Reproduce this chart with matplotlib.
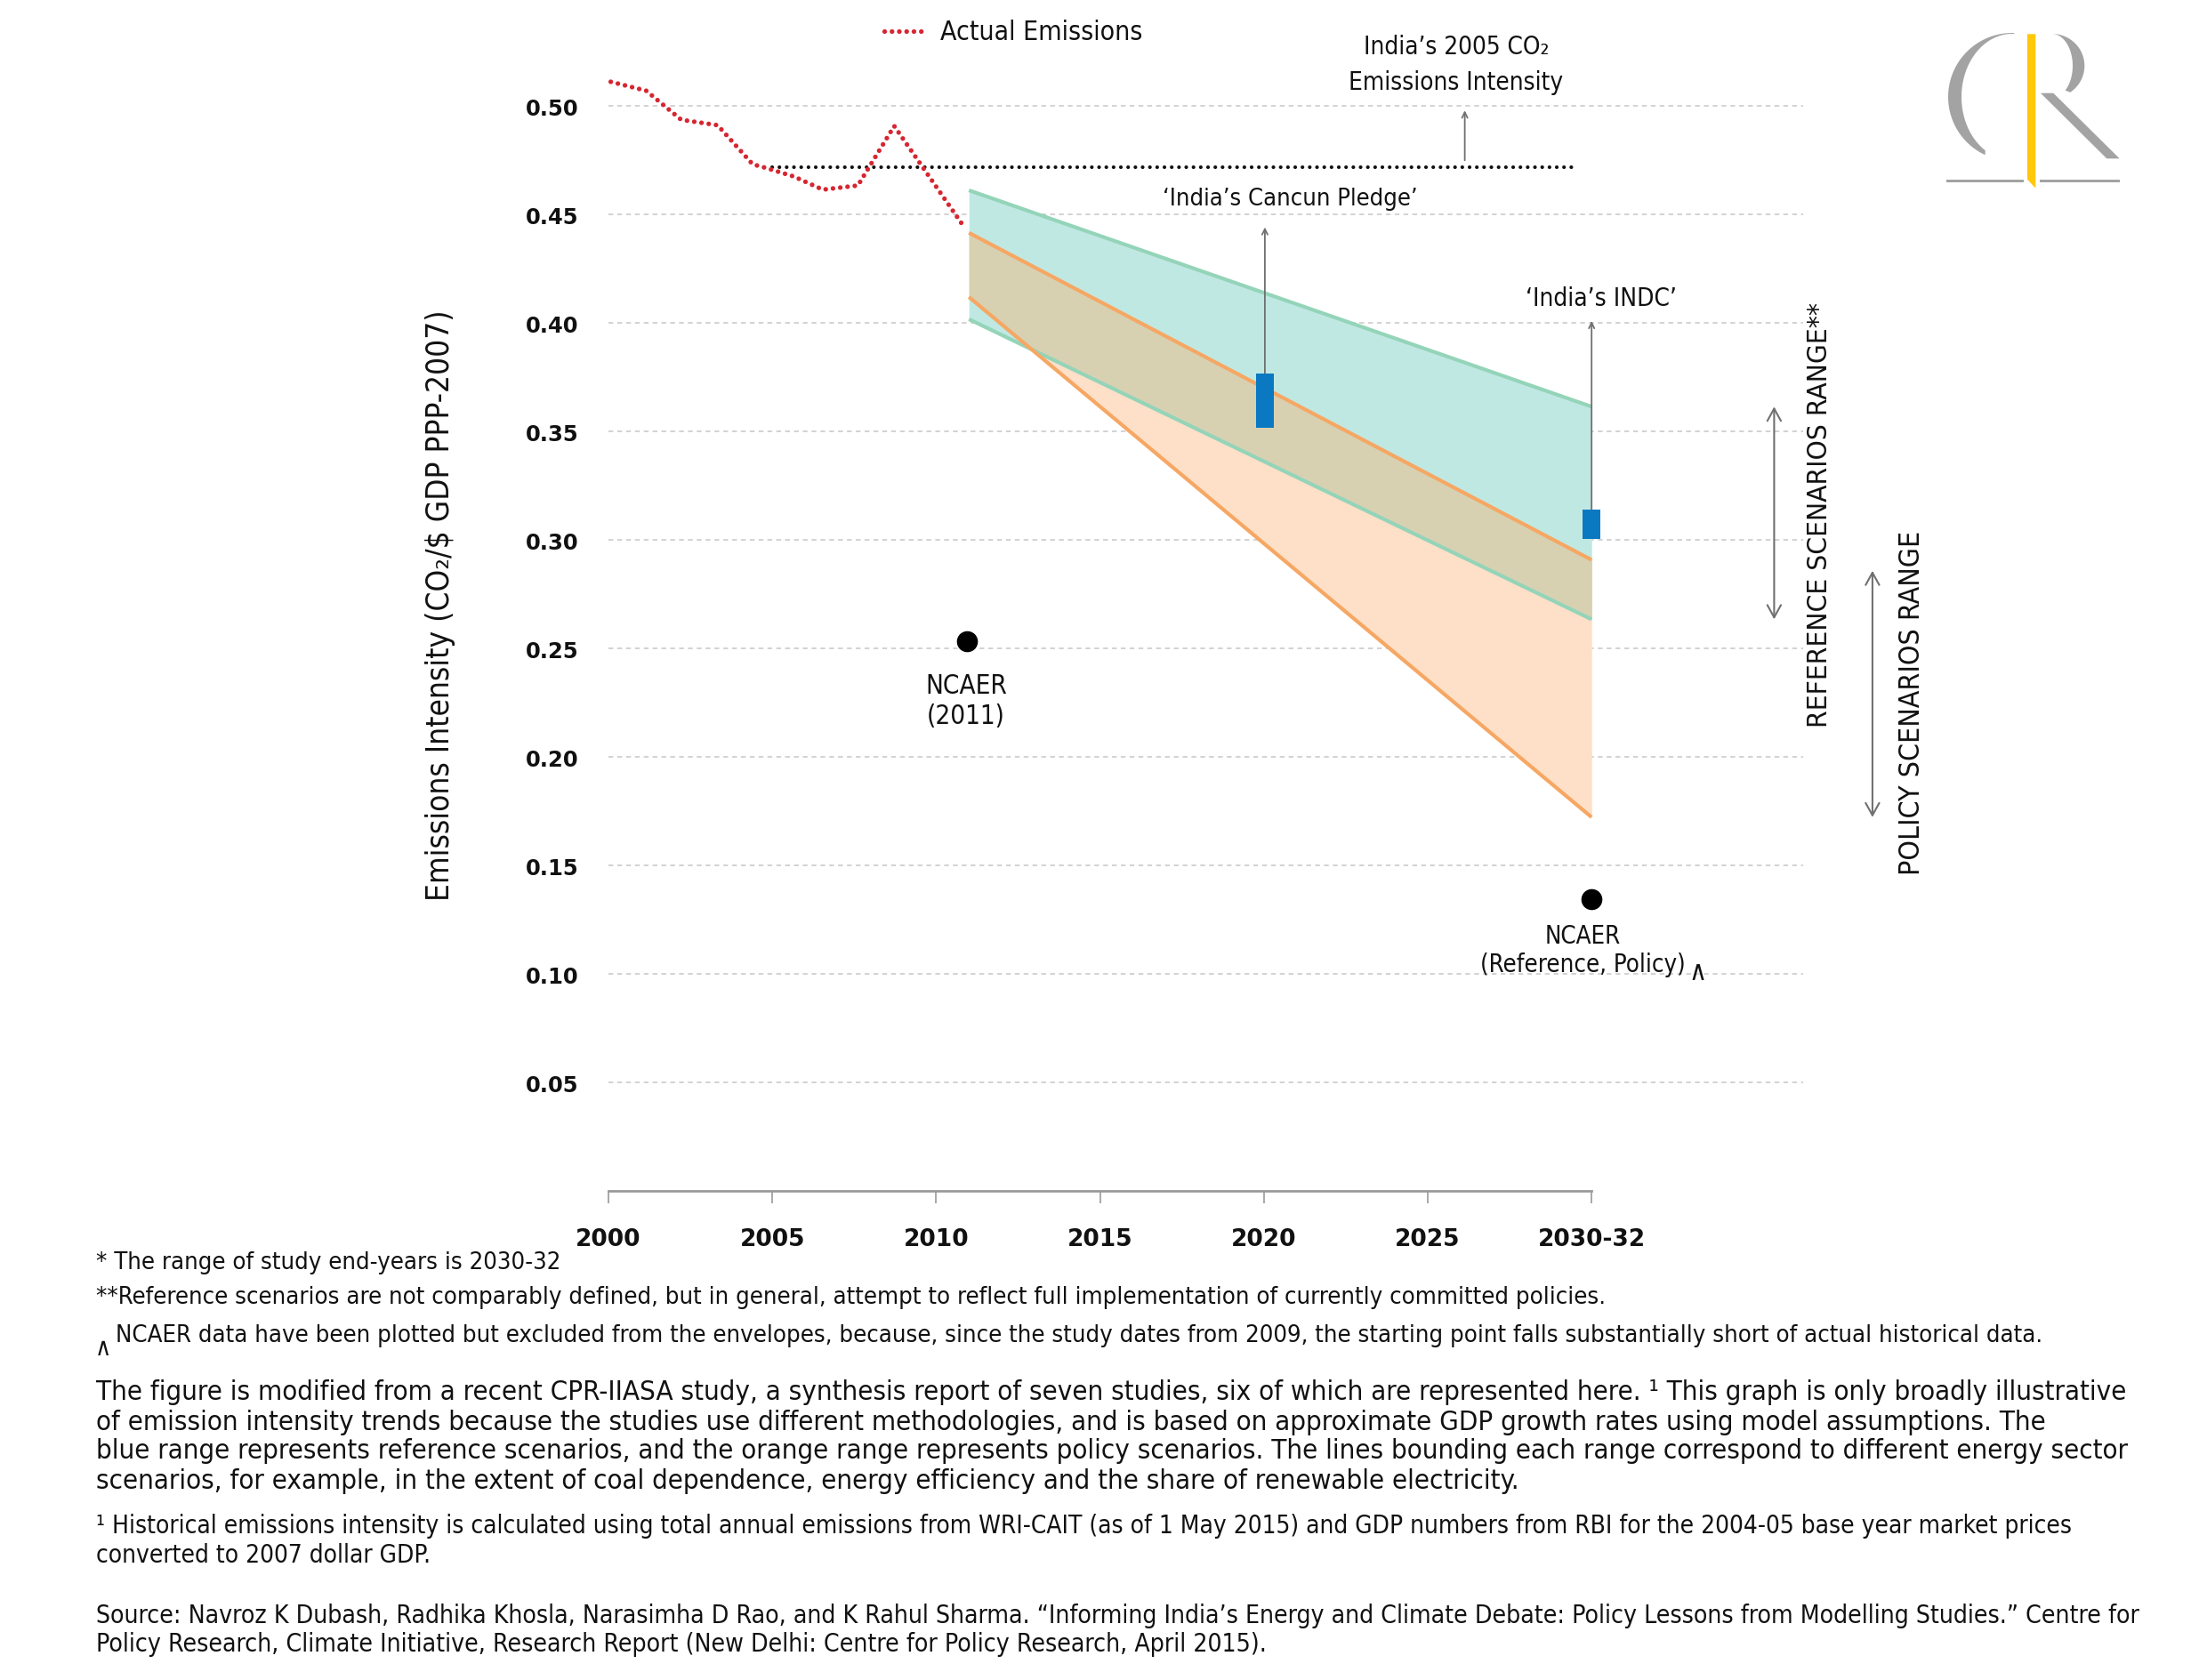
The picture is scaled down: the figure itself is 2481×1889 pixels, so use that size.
"""India emissions-intensity envelopes: reference vs policy scenarios, with pledges."""

import numpy as np
import matplotlib

matplotlib.use("Agg")
import matplotlib.pyplot as plt  # noqa: E402
from matplotlib import font_manager  # noqa: E402
from matplotlib.patches import Polygon  # noqa: E402

W, H = 2481, 1890

# ---- values ----
ACTUAL_YEARS = [2000.07, 2001.15, 2002.22, 2003.33, 2004.40, 2004.83, 2005.65,
                2006.54, 2007.61, 2008.72, 2010.87]
ACTUAL_VALUES = [0.5112, 0.5071, 0.4937, 0.4912, 0.4732, 0.4714, 0.4676,
                 0.4615, 0.4634, 0.4908, 0.4439]

BASE_2005 = 0.472          # India's 2005 CO2 emissions intensity
BASE_SPAN = [2005.0, 2029.4]

ENV_YEARS = [2011.0, 2030.0]
REF_UPPER = [0.4612, 0.3615]
REF_LOWER = [0.4018, 0.2635]
POL_UPPER = [0.4416, 0.2909]
POL_LOWER = [0.4120, 0.1723]

PLEDGE_YEARS = [2020.03, 2030.0]
PLEDGE_LOW = [0.3519, 0.3007]
PLEDGE_HIGH = [0.3767, 0.3140]
PLEDGE_ARROW_TOP = [0.4442, 0.4010]

NCAER_YEARS = [2010.93, 2030.0]
NCAER_VALUES = [0.2536, 0.1347]

X_TICKS = [2000, 2005, 2010, 2015, 2020, 2025, 2030]
X_LABELS = ["2000", "2005", "2010", "2015", "2020", "2025", "2030-32"]
Y_TICKS = [0.05, 0.10, 0.15, 0.20, 0.25, 0.30, 0.35, 0.40, 0.45, 0.50]

# ---- colours ----
RED = "#d62631"
GREEN = "#94d4b9"
ORANGE = "#f6a763"
TEAL_FILL = "#c0e8e3"
PEACH_FILL = "#fde0c7"
OVERLAP_FILL = "#d7d1b2"
BLUE = "#0a79c1"
ARROW = "#707070"
INK = "#111111"
LOGO_GREY = "#a3a3a3"
LOGO_YELLOW = "#ffc80a"


def pick_text_font():
    fonts = font_manager.fontManager.ttflist
    if any(f.name == "Liberation Sans Narrow" for f in fonts):
        return {"family": ["Liberation Sans Narrow", "DejaVu Sans"]}
    for fam in ("DejaVu Sans", "Roboto", "Open Sans", "Noto Sans"):
        if any(f.name == fam and "Condensed" in f.fname for f in fonts):
            return {"family": [fam, "DejaVu Sans"], "fontstretch": "condensed"}
    for f in fonts:
        if "Condensed" in f.name or "Narrow" in f.name:
            return {"family": [f.name, "DejaVu Sans"]}
    return {"family": ["Lato", "DejaVu Sans"]}


TEXT_FONT = pick_text_font()

fig = plt.figure(figsize=(W / 100, H / 100), dpi=100)
fig.patch.set_facecolor("white")

# main axes: 2000 at x=684px, 1 yr = 36.84px; y=0 at 1340px, 0.05 = 122px
X_MAX = 2036.45
ax = fig.add_axes([684 / W, (H - 1340.3) / H, (X_MAX - 2000) * 36.84 / W, 0.53 * 2440 / H])
ax.set_xlim(2000, X_MAX)
ax.set_ylim(0, 0.53)
for side in ("top", "right", "left"):
    ax.spines[side].set_visible(False)
ax.spines["bottom"].set_bounds(2000, 2030)
ax.spines["bottom"].set_color("#9a9a9a")
ax.spines["bottom"].set_linewidth(2)

ax.set_xticks(X_TICKS)
ax.set_xticklabels(X_LABELS)
ax.set_yticks(Y_TICKS)
ax.set_yticklabels([f"{v:.2f}" for v in Y_TICKS])
ax.tick_params(axis="x", length=10, width=1.2, color="#9a9a9a", pad=19,
               labelsize=19, labelcolor=INK)
ax.tick_params(axis="y", length=0, pad=24, labelsize=17.5, labelcolor=INK)
for lab in ax.get_xticklabels() + ax.get_yticklabels():
    lab.set_fontweight("bold")
    lab.set_family("DejaVu Sans")

ax.yaxis.grid(True, color="#c6c6c6", linewidth=1.1, linestyle=(0, (3.5, 3)))
ax.set_axisbelow(True)

# ---- envelopes ----
xs = np.linspace(ENV_YEARS[0], ENV_YEARS[1], 400)
ref_hi = np.interp(xs, ENV_YEARS, REF_UPPER)
ref_lo = np.interp(xs, ENV_YEARS, REF_LOWER)
pol_hi = np.interp(xs, ENV_YEARS, POL_UPPER)
pol_lo = np.interp(xs, ENV_YEARS, POL_LOWER)
ax.fill_between(xs, pol_lo, pol_hi, color=PEACH_FILL, linewidth=0, zorder=1)
ax.fill_between(xs, ref_lo, ref_hi, color=TEAL_FILL, linewidth=0, zorder=1.1)
ov_lo = np.maximum(ref_lo, pol_lo)
ov_hi = np.minimum(ref_hi, pol_hi)
ax.fill_between(xs, ov_lo, ov_hi, where=ov_hi > ov_lo, interpolate=True,
                color=OVERLAP_FILL, linewidth=0, zorder=1.2)

for edge in (REF_UPPER, REF_LOWER):
    ax.plot(ENV_YEARS, edge, color=GREEN, linewidth=3, solid_capstyle="butt", zorder=2)
for edge in (POL_UPPER, POL_LOWER):
    ax.plot(ENV_YEARS, edge, color=ORANGE, linewidth=3, solid_capstyle="butt", zorder=2.1)

# ---- 2005 baseline and actual emissions ----
ax.plot(BASE_SPAN, [BASE_2005, BASE_2005], color=INK, linewidth=3.0,
        linestyle=(0, (0.01, 1.95)), dash_capstyle="round", zorder=5)
ax.plot(ACTUAL_YEARS, ACTUAL_VALUES, color=RED, linewidth=3.8,
        linestyle=(0, (0.01, 1.55)), dash_capstyle="round", zorder=6)

# ---- pledges ----
ax.bar(PLEDGE_YEARS, np.subtract(PLEDGE_HIGH, PLEDGE_LOW), bottom=PLEDGE_LOW,
       width=0.54, color=BLUE, zorder=4)
thin = dict(arrowstyle="->,head_length=0.45,head_width=0.22", color=ARROW,
            lw=1.3, shrinkA=0, shrinkB=0)
for x, lo, hi in zip(PLEDGE_YEARS, PLEDGE_HIGH, PLEDGE_ARROW_TOP):
    ax.annotate("", xy=(x, hi), xytext=(x, lo), arrowprops=thin, zorder=3)
ax.annotate("", xy=(2026.13, 0.4980), xytext=(2026.13, BASE_2005 + 0.003),
            arrowprops=thin, zorder=3)

# ---- NCAER points ----
ax.plot(NCAER_YEARS, NCAER_VALUES, "o", color="black", markersize=16, zorder=6)

# ---- range arrows on the right ----
wide = dict(arrowstyle="<->,head_length=1.0,head_width=0.55", color=ARROW,
            lw=1.5, shrinkA=0, shrinkB=0)
ax.annotate("", xy=(2035.57, REF_UPPER[1]), xytext=(2035.57, REF_LOWER[1]),
            arrowprops=wide, annotation_clip=False)
ax.annotate("", xy=(2038.57, 0.2859), xytext=(2038.57, POL_LOWER[1]),
            arrowprops=wide, annotation_clip=False)

# ---- overlay in pixel coordinates for text and the logo ----
ov = fig.add_axes([0, 0, 1, 1], zorder=10)
ov.set_xlim(0, W)
ov.set_ylim(H, 0)
ov.axis("off")
ov.patch.set_alpha(0)


def txt(x, y, s, size=24, ha="center", va="center", rot=0, **kw):
    return ov.text(x, y, s, fontsize=size, ha=ha, va=va, rotation=rot,
                   color=INK, **TEXT_FONT, **kw)


ov.plot([994, 1040], [36.4, 36.4], color=RED, linewidth=3.8,
        linestyle=(0, (0.01, 1.55)), dash_capstyle="round")
t_leg = txt(1057, 36.4, "Actual Emissions", ha="left")

t_b1 = txt(1637, 53, "India’s 2005 CO₂")
t_b2 = txt(1637, 93, "Emissions Intensity")
t_can = txt(1450.5, 224, "‘India’s Cancun Pledge’")
t_indc = txt(1800, 335.6, "‘India’s INDC’")
t_n1 = txt(1086, 771.7, "NCAER")
t_n1b = txt(1086, 805, "(2011)")
t_n2 = txt(1779, 1053, "NCAER")
t_n2b = txt(1779, 1085, "(Reference, Policy)")
txt(1909, 1093, "∧", size=22)
t_ref = txt(2045, 579, "REFERENCE SCENARIOS RANGE**", rot=90)
t_pol = txt(2150, 790, "POLICY SCENARIOS RANGE", rot=90)
t_ylab = txt(495, 681, "Emissions Intensity (CO₂/$ GDP PPP-2007)", rot=90)

L = 107.6
f1 = txt(L, 1420, "* The range of study end-years is 2030-32", size=20, ha="left")
f2 = txt(L, 1459.5, "**Reference scenarios are not comparably defined, but in general, "
         "attempt to reflect full implementation of currently committed policies.",
         size=20, ha="left")
f3 = txt(130, 1502, "NCAER data have been plotted but excluded from the envelopes, because, "
         "since the study dates from 2009, the starting point falls substantially short "
         "of actual historical data.", size=20, ha="left")
txt(115.5, 1516, "∧", size=20)

PARA = [
    "The figure is modified from a recent CPR-IIASA study, a synthesis report of seven "
    "studies, six of which are represented here. ¹ This graph is only broadly illustrative",
    "of emission intensity trends because the studies use different methodologies, and is "
    "based on approximate GDP growth rates using model assumptions. The",
    "blue range represents reference scenarios, and the orange range represents policy "
    "scenarios. The lines bounding each range correspond to different energy sector",
    "scenarios, for example, in the extent of coal dependence, energy efficiency and the "
    "share of renewable electricity.",
]
para = [txt(L, y, s, size=24, ha="left") for y, s in zip([1565.6, 1599, 1632, 1665.3], PARA)]

fn = [txt(L, 1716, "¹ Historical emissions intensity is calculated using total annual emissions "
          "from WRI-CAIT (as of 1 May 2015) and GDP numbers from RBI for the 2004-05 base "
          "year market prices", size=22, ha="left"),
      txt(L, 1749, "converted to 2007 dollar GDP.", size=22, ha="left")]
src = [txt(L, 1817, "Source: Navroz K Dubash, Radhika Khosla, Narasimha D Rao, and K Rahul "
           "Sharma. “Informing India’s Energy and Climate Debate: Policy Lessons from "
           "Modelling Studies.” Centre for", size=22, ha="left"),
       txt(L, 1849, "Policy Research, Climate Initiative, Research Report (New Delhi: Centre "
           "for Policy Research, April 2015).", size=22, ha="left")]

# ---- CPR logo ----
t = np.radians(np.linspace(88, 245, 60))
ti = np.radians(np.linspace(238, 88, 60))
c_pts = np.vstack([np.c_[2262 + 72 * np.cos(t), 110 - 72 * np.sin(t)],
                   np.c_[2262 + 57 * np.cos(ti), 110 - 71 * np.sin(ti)]])
t = np.radians(np.linspace(90, -56, 50))
ti = np.radians(np.linspace(-50, 90, 50))
r_pts = np.vstack([np.c_[2306.7 + 36.6 * np.cos(t), 75 - 36 * np.sin(t)],
                   np.c_[2306.7 + 23.3 * np.cos(ti), 75 - 36 * np.sin(ti)]])
for pts, col in [
    (c_pts, LOGO_GREY),
    (r_pts, LOGO_GREY),
    ([(2294, 105.7), (2308.3, 105.7), (2382.7, 179.3), (2368.3, 179.3)], LOGO_GREY),
    ([(2188.3, 202.7), (2275, 202.7), (2275, 205.7), (2188.3, 205.7)], LOGO_GREY),
    ([(2292.7, 202.7), (2382.7, 202.7), (2382.7, 205.7), (2292.7, 205.7)], LOGO_GREY),
    ([(2279, 39.3), (2288.3, 39.3), (2288.3, 212.7), (2279, 202.7)], LOGO_YELLOW),
]:
    ov.add_patch(Polygon(pts, closed=True, facecolor=col, edgecolor="none"))


# ---- fit text sizes to the widths measured on the reference ----
def fit(group, target, rotated=False):
    r = fig.canvas.get_renderer()
    bb = group[0].get_window_extent(r)
    k = target / (bb.height if rotated else bb.width)
    for item in group:
        item.set_fontsize(item.get_fontsize() * k)


fig.canvas.draw()
fit([t_leg], 228)
fit([t_b2, t_b1], 241)
fit([t_can], 286)
fit([t_indc], 170)
fit([t_n1, t_n1b], 92)
fit([t_n2b, t_n2], 231)
fit([t_ref], 478, rotated=True)
fit([t_pol], 386, rotated=True)
fit([t_ylab], 665, rotated=True)
fit([f2, f1, f3], 1692)
fit(para, 2297)
fit(fn, 2221)
fit(src, 2310)

fig.savefig("out.png", dpi=100, facecolor="white")
